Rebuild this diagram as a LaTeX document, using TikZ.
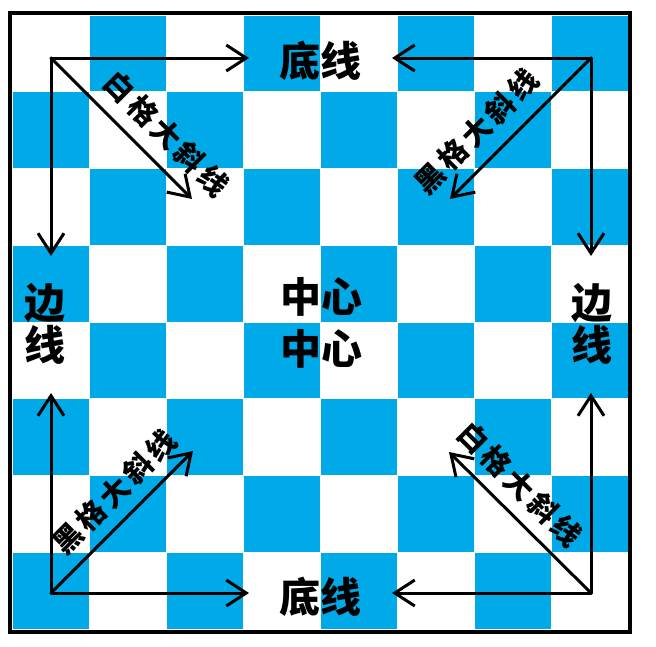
\documentclass[tikz,border=0pt]{standalone}
\usepackage{fontspec}
\setmainfont{Noto Sans CJK SC}
\usetikzlibrary{arrows.meta}
\definecolor{boardblue}{RGB}{0,170,232}
\tikzset{
  sq/.style={fill=boardblue, draw=none},
  frame/.style={draw=black, line width=4pt},
  arr/.style={line width=3pt, line cap=round, -{Straight Barb[length=20pt,width=26pt,line width=3pt]}},
  bigtxt/.style={font=\bfseries\fontsize{41}{42}\selectfont, inner sep=0pt, align=center},
  midtxt/.style={font=\bfseries\fontsize{41}{52}\selectfont, inner sep=0pt, align=center},
  diagtxt/.style={font=\bfseries\fontsize{29}{29}\selectfont\addfontfeature{LetterSpace=14}, inner sep=0pt},
}
\begin{document}
\begin{tikzpicture}[x=1pt, y=-1pt]
  \useasboundingbox (0,0) rectangle (656,646);
  \fill[white] (0,0) rectangle (656,646);
  % board squares
  \foreach \r in {0,...,7}{
    \foreach \c in {0,...,7}{
      \pgfmathtruncatemacro{\odd}{mod(\r+\c,2)}
      \ifnum\odd=1
        \fill[sq] ({12+77*\c+0.5},{15+76.75*\r+0.5}) rectangle ({12+77*(\c+1)-0.5},{15+76.75*(\r+1)-0.5});
      \fi
    }
  }
  \draw[frame] (9.5,13) rectangle (630,631.5);

  % corner points and arrow ends
  \coordinate (TL) at (51,58);
  \coordinate (TR) at (591,58);
  \coordinate (BL) at (51,593);
  \coordinate (BR) at (591,593);
  \coordinate (TLh) at (249,58);
  \coordinate (TLv) at (51,256);
  \coordinate (TLd) at (192,199);
  \coordinate (TRh) at (392,58);
  \coordinate (TRv) at (591,256);
  \coordinate (TRd) at (450,199);
  \coordinate (BLh) at (249,593);
  \coordinate (BLv) at (51,393);
  \coordinate (BLd) at (193,451);
  \coordinate (BRh) at (392,593);
  \coordinate (BRv) at (591,393);
  \coordinate (BRd) at (449,452);

  \draw[arr] (TL) -- (TLh);
  \draw[arr] (TL) -- (TLv);
  \draw[arr] (TL) -- (TLd);
  \draw[arr] (TR) -- (TRh);
  \draw[arr] (TR) -- (TRv);
  \draw[arr] (TR) -- (TRd);
  \draw[arr] (BL) -- (BLh);
  \draw[arr] (BL) -- (BLv);
  \draw[arr] (BL) -- (BLd);
  \draw[arr] (BR) -- (BRh);
  \draw[arr] (BR) -- (BRv);
  \draw[arr] (BR) -- (BRd);

  % labels
  \node[bigtxt] (top) at (320,61) {底线};
  \node[bigtxt] (bottom) at (320,597) {底线};
  \node[bigtxt] (left) at (45,324) {边\\线};
  \node[bigtxt] (right) at (592,324) {边\\线};
  \node[midtxt] (center) at (321,323) {中心\\中心};

  \node[diagtxt, rotate=-45] (dTL) at (166.5,134) {白格大斜线};
  \node[diagtxt, rotate=45] (dTR) at (476.5,131.5) {黑格大斜线};
  \node[diagtxt, rotate=45] (dBL) at (114.5,492) {黑格大斜线};
  \node[diagtxt, rotate=-45] (dBR) at (520,484.5) {白格大斜线};
\end{tikzpicture}
\end{document}
